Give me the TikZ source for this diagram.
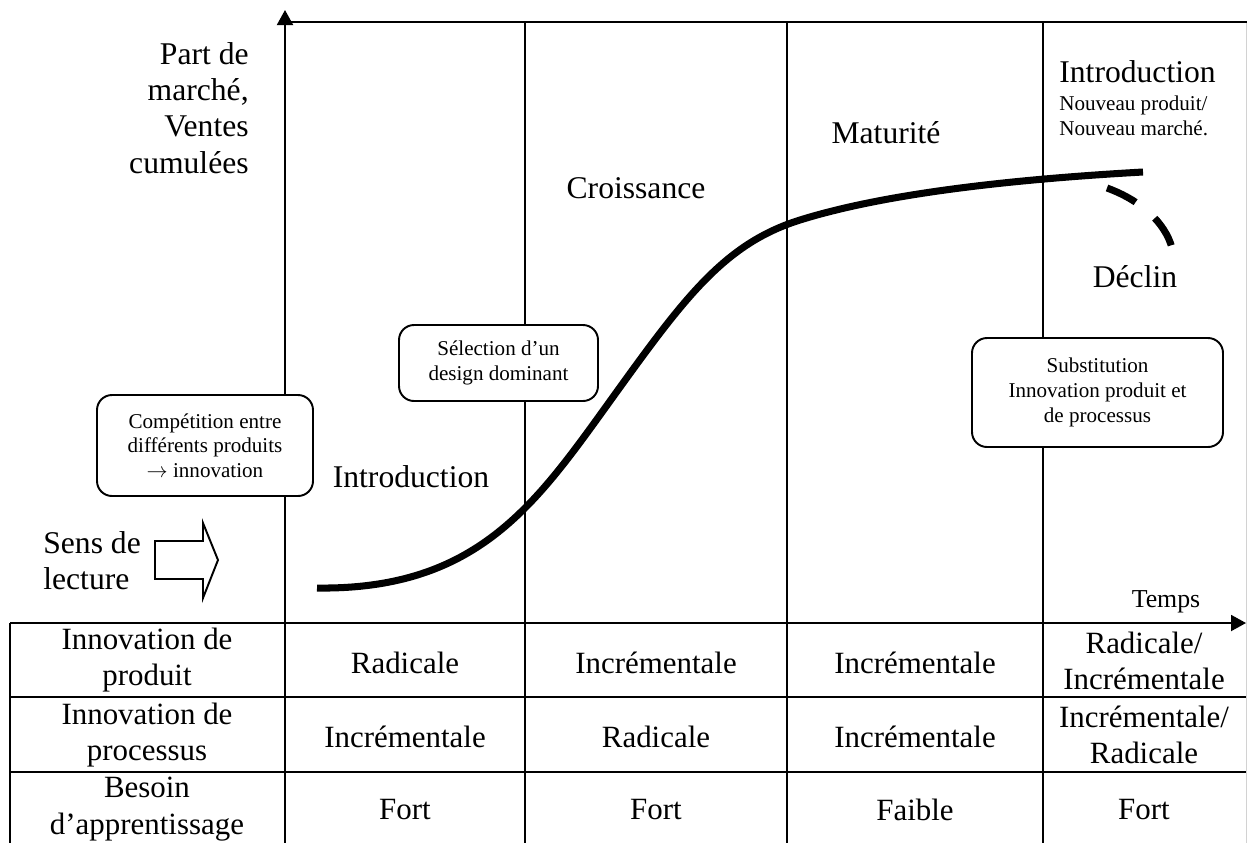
\documentclass[tikz,border=0pt]{standalone}
\usepackage{fontspec}
\setmainfont{Liberation Serif}
\usetikzlibrary{arrows.meta}
\begin{document}
\begin{tikzpicture}[x=0.02cm,y=-0.02cm,
  big/.style={font=\fontsize{18pt}{20.6pt}\selectfont, inner sep=0pt},
  smalltxt/.style={font=\fontsize{12pt}{14pt}\selectfont, inner sep=0pt, align=center},
  cell/.style={font=\fontsize{17.6pt}{20.6pt}\selectfont, inner sep=0pt, align=center},
  rule/.style={line width=1.1pt},
  note/.style={draw, line width=1.1pt, rounded corners=0.3cm, fill=white, smalltxt},
  curvestyle/.style={line width=4pt},
  axisarrow/.style={rule, -{Triangle[length=0.3cm,width=0.32cm]}},
]
\useasboundingbox (0,0) rectangle (1247,843);

% coordinates
\coordinate (ybot) at (285,623);
\coordinate (ytop) at (285,10);
\coordinate (tl) at (285,22);
\coordinate (tr) at (1247,22);
\coordinate (xl) at (10,623);
\coordinate (xr) at (1246,623);
\coordinate (bl) at (10,843);
\coordinate (c1t) at (525,22);  \coordinate (c1b) at (525,843);
\coordinate (c2t) at (787,22);  \coordinate (c2b) at (787,843);
\coordinate (c3t) at (1043,22); \coordinate (c3b) at (1043,843);
\coordinate (axb) at (285,843);
\coordinate (r1l) at (10,697);  \coordinate (r1r) at (1246,697);
\coordinate (r2l) at (10,772);  \coordinate (r2r) at (1246,772);
\coordinate (gt) at (1246,22);  \coordinate (gb) at (1246,843);

% frame lines
\draw[gray!35, line width=0.5pt] (gt) -- (gb);
\draw[rule] (tl) -- (tr);
\draw[rule] (c1t) -- (c1b);
\draw[rule] (c2t) -- (c2b);
\draw[rule] (c3t) -- (c3b);
\draw[rule] (ybot) -- (axb);
\draw[rule] (xl) -- (bl);
\draw[rule] (r1l) -- (r1r);
\draw[rule] (r2l) -- (r2r);
\draw[axisarrow] (ybot) -- (ytop);
\draw[axisarrow] (xl) -- (xr);

% axis labels
\node[big, align=right, anchor=east] (ylab) at (249,108) {Part de\\marché,\\Ventes\\cumulées};
\node[font=\fontsize{14.7pt}{16pt}\selectfont, inner sep=0pt] (temps) at (1166,602) {Temps};

% phase labels
\node[big] (intro) at (411,477) {Introduction};
\node[big] (crois) at (636,188) {Croissance};
\node[big] (matur) at (886,133) {Maturité};
\node[big, anchor=west] (intro2) at (1059,72) {Introduction};
\node[smalltxt, align=left, anchor=west] (nouv) at (1059,116) {Nouveau produit/\\Nouveau marché.};
\node[big] (declin) at (1135,277) {Déclin};

% reading direction
\node[big, align=left, anchor=west] (sens) at (43,561) {Sens de\\lecture};
\draw[rule, line join=miter] (155,541) -- (203,541) -- (203,523) -- (218,560) -- (203,598) -- (203,579) -- (155,579) -- cycle;

% notes
\node[note, minimum width=216*0.02cm, minimum height=101*0.02cm] (comp) at (205,445.5)
  {Compétition entre\\différents produits\\$\rightarrow$ innovation};
\node[note, minimum width=199*0.02cm, minimum height=76*0.02cm] (sel) at (498.5,363)
  {Sélection d’un\\design dominant};
\node[note, minimum width=251*0.02cm, minimum height=109*0.02cm] (subst) at (1097.5,392.5)
  {Substitution\\Innovation produit et\\de processus};

% life-cycle curve
\coordinate (s0) at (317,588);
\coordinate (s1) at (600,415);
\coordinate (s2) at (800,220);
\coordinate (s3) at (1143,172);
\draw[curvestyle, line cap=butt] (s0) .. controls (470,590) and (530,512) .. (s1)
  .. controls (680,304) and (720,245) .. (s2)
  .. controls (880,195) and (1000,180) .. (s3);
\coordinate (d0) at (1107,188);
\coordinate (d1) at (1172,248);
\draw[curvestyle, dash pattern=on 0.64cm off 0.5cm] (d0) .. controls (1140,200) and (1165,222) .. (d1);

% table
\node[cell] (h1) at (147,660) {Innovation de\\produit};
\node[cell] (h2) at (147,735) {Innovation de\\processus};
\node[cell] (h3) at (147,809) {Besoin\\d’apprentissage};

\node[cell] (a1) at (405,663) {Radicale};
\node[cell] (a2) at (656,663) {Incrémentale};
\node[cell] (a3) at (915,663) {Incrémentale};
\node[cell] (a4) at (1144,661) {Radicale/\\Incrémentale};

\node[cell] (b1) at (405,737) {Incrémentale};
\node[cell] (b2) at (656,737) {Radicale};
\node[cell] (b3) at (915,737) {Incrémentale};
\node[cell] (b4) at (1144,735) {Incrémentale/\\Radicale};

\node[cell] (f1) at (405,810) {Fort};
\node[cell] (f2) at (656,810) {Fort};
\node[cell] (f3) at (915,810) {Faible};
\node[cell] (f4) at (1144,810) {Fort};
\end{tikzpicture}
\end{document}
